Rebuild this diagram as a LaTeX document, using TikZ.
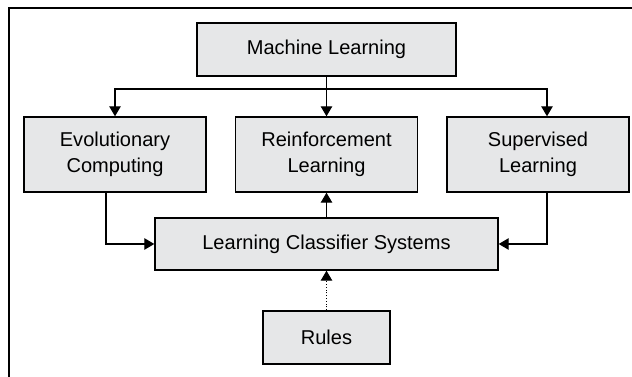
\documentclass[tikz,border=0pt]{standalone}
\usepackage{fontspec}
\setmainfont{Liberation Sans}
\usepackage{tikz}
\usetikzlibrary{arrows.meta, positioning}
\definecolor{boxgray}{RGB}{230,231,232}

\begin{document}
\begin{tikzpicture}[
  box/.style={draw, line width=0.8pt, fill=boxgray, shape=rectangle, align=center,
    inner sep=0pt, font=\fontsize{11.4}{14.8}\selectfont},
  link/.style={line width=0.6pt, -{Triangle[length=0.2cm, width=0.23cm]}}]
\useasboundingbox (0,0) rectangle (12.64,7.54);
% frame
\draw[line width=0.6pt] (0.18,0) -- (0.18,7.38) -- (12.64,7.38);
\node[box, minimum width=5.18cm, minimum height=1.06cm] (ml) at (6.53,6.55) {Machine Learning};
\node[box, minimum width=3.64cm, minimum height=1.5cm] (evo) at (2.30,4.45) {Evolutionary\\Computing};
\node[box, minimum width=3.64cm, minimum height=1.5cm] (rl) at (6.53,4.45) {Reinforcement\\Learning};
\node[box, minimum width=3.64cm, minimum height=1.5cm] (sup) at (10.76,4.45) {Supervised\\Learning};
\node[box, minimum width=6.86cm, minimum height=1.04cm] (lcs) at (6.53,2.66) {Learning Classifier Systems};
\node[box, minimum width=2.54cm, minimum height=1.06cm] (rules) at (6.53,0.79) {Rules};
\coordinate (split) at (6.53,5.76);
\draw[link] (ml.south) -- (rl.north);
\draw[link] (split) -| (evo.north);
\draw[link] (split) -| ([xshift=0.18cm]sup.north);
\draw[link] ([xshift=-0.18cm]evo.south) |- (lcs.west);
\draw[link] ([xshift=0.18cm]sup.south) |- (lcs.east);
\draw[link] (lcs.north) -- (rl.south);
\draw[link, densely dotted] (rules.north) -- (lcs.south);
\end{tikzpicture}
\end{document}
